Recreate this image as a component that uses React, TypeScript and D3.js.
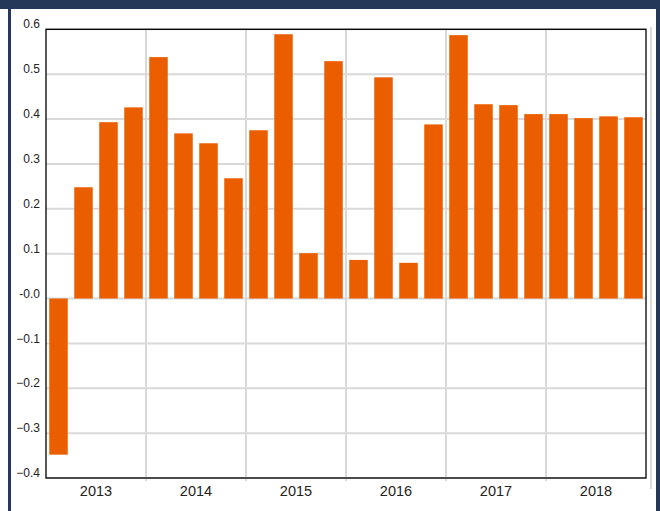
import React from "react";
import * as d3 from "d3";

const quarters = [
  "2013Q1","2013Q2","2013Q3","2013Q4",
  "2014Q1","2014Q2","2014Q3","2014Q4",
  "2015Q1","2015Q2","2015Q3","2015Q4",
  "2016Q1","2016Q2","2016Q3","2016Q4",
  "2017Q1","2017Q2","2017Q3","2017Q4",
  "2018Q1","2018Q2","2018Q3","2018Q4",
];
const values = [
  -0.348, 0.248, 0.393, 0.426,
  0.538, 0.368, 0.346, 0.268,
  0.375, 0.589, 0.101, 0.529,
  0.086, 0.493, 0.0795, 0.388,
  0.587, 0.433, 0.431, 0.411,
  0.411, 0.402, 0.406, 0.404,
];
const years = ["2013", "2014", "2015", "2016", "2017", "2018"];
const yTicks = [0.6, 0.5, 0.4, 0.3, 0.2, 0.1, 0, -0.1, -0.2, -0.3, -0.4];

const W = 660;
const H = 511;
const left = 46;
const right = 646;
const top = 29.3;
const bottom = 478;

export default function App() {
  const x = d3.scaleBand<string>().domain(quarters).range([left, right]).paddingInner(0.26).paddingOuter(0.13);
  const xYear = d3.scaleBand<string>().domain(years).range([left, right]);
  const y = d3.scaleLinear().domain([-0.4, 0.6]).range([bottom, top]);
  const fmt = (v: number) => (Math.abs(v) < 1e-9 ? "-0.0" : d3.format(".1f")(v));
  const navy = "#26385a";
  const grid = "#d9d9d9";
  const font = "'Liberation Sans', Arial, sans-serif";

  return (
    <svg width={W} height={H} style={{ position: "absolute", left: 0, top: 0, background: "#fff" }}>
      <rect x={0} y={0} width={W} height={H} fill="#fff" />
      <rect x={0} y={0} width={W} height={9} fill={navy} />
      <rect x={8} y={0} width={3} height={H} fill={navy} />
      <rect x={656} y={0} width={4} height={H} fill={navy} />
      <rect x={650} y={27} width={2} height={462} fill="#dcdcdc" />

      {yTicks.map((t) => (
        <line key={"gy" + t} x1={left} x2={right} y1={y(t)} y2={y(t)} stroke={grid} strokeWidth={2} />
      ))}
      {years.slice(1).map((yr) => (
        <line key={"gx" + yr} x1={xYear(yr)!} x2={xYear(yr)!} y1={top} y2={bottom + 3} stroke={grid} strokeWidth={2} />
      ))}

      {quarters.map((q, i) => {
        const v = values[i];
        const y0 = y(0);
        const yv = y(v);
        return (
          <rect
            key={q}
            x={x(q)!}
            width={x.bandwidth()}
            y={Math.min(y0, yv)}
            height={Math.abs(yv - y0)}
            fill="#eb5e00"
          />
        );
      })}

      <rect x={left} y={top} width={right - left} height={bottom - top} fill="none" stroke="#000" strokeWidth={1.3} />

      {yTicks.map((t) => (
        <text
          key={"ty" + t}
          x={40}
          y={y(t) - 4}
          textAnchor="end"
          dominantBaseline="middle"
          fontFamily={font}
          fontSize={12}
          fill="#222"
        >
          {fmt(t)}
        </text>
      ))}
      {years.map((yr) => (
        <text
          key={"tx" + yr}
          x={xYear(yr)! + xYear.bandwidth() / 2}
          y={496}
          textAnchor="middle"
          fontFamily={font}
          fontSize={14.5}
          fill="#222"
        >
          {yr}
        </text>
      ))}
    </svg>
  );
}
